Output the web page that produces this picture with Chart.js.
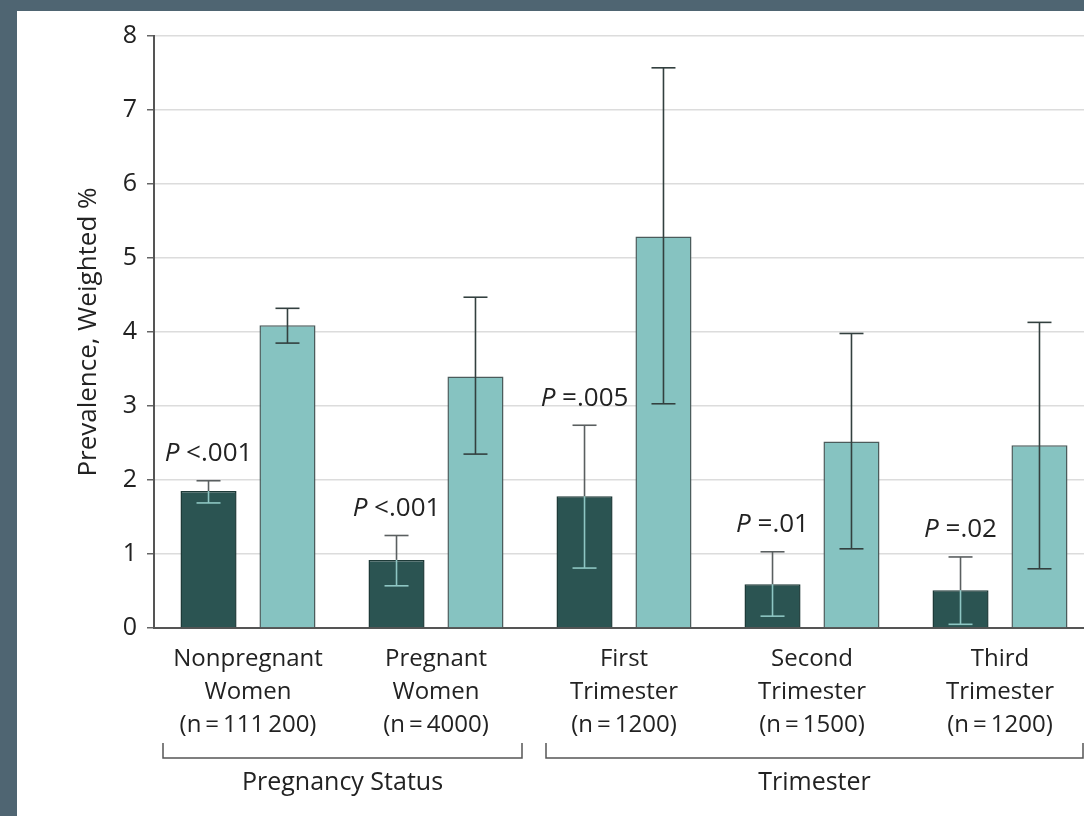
<!DOCTYPE html>
<html>
<head>
<meta charset="utf-8">
<script src="https://cdn.jsdelivr.net/npm/chart.js@4"></script>
<style>
  html, body { margin: 0; padding: 0; }
  body { background: #4f6572; width: 1084px; height: 816px; overflow: hidden; position: relative; }
  #panel { position: absolute; left: 17px; top: 11px; width: 1077px; height: 805px; background: #fff; }
  canvas { display: block; }
</style>
</head>
<body>
<div id="panel"><canvas id="chart" width="1077" height="805"></canvas></div>
<script>
// Chart data
const categories = [
    ['Nonpregnant', 'Women', '(n\u2009=\u2009111\u2009200)'],
    ['Pregnant', 'Women', '(n\u2009=\u20094000)'],
    ['First', 'Trimester', '(n\u2009=\u20091200)'],
    ['Second', 'Trimester', '(n\u2009=\u20091500)'],
    ['Third', 'Trimester', '(n\u2009=\u20091200)']
];
const darkValues = [1.85, 0.92, 1.78, 0.59, 0.51];
const darkLow = [1.69, 0.57, 0.81, 0.16, 0.05];
const darkHigh = [1.99, 1.25, 2.74, 1.03, 0.96];
const lightValues = [4.09, 3.40, 5.29, 2.52, 2.47];
const lightLow = [3.85, 2.35, 3.03, 1.07, 0.80];
const lightHigh = [4.32, 4.47, 7.57, 3.98, 4.13];
const pValues = ['<.001', '<.001', '=.005', '=.01', '=.02'];
const groupNames = ['Pregnancy Status', 'Trimester'];
const groupSpans = [[0, 1], [2, 4]];
const yTicks = [0, 1, 2, 3, 4, 5, 6, 7, 8];

const FONT = "'Open Sans', 'DejaVu Sans', sans-serif";
const DARK = '#2b5452';
const LIGHT = '#86c3c1';

// Error bars: dark bars get a light line inside the bar and gray above it
const errorBars = {
    id: 'errorBars',
    afterDatasetsDraw(chart) {
        const ctx = chart.ctx;
        const y = chart.scales.y;
        const sets = [[darkLow, darkHigh, true], [lightLow, lightHigh, false]];
        ctx.save();
        ctx.lineWidth = 1.6;
        sets.forEach(([lows, highs, inside], i) => {
            chart.getDatasetMeta(i).data.forEach((bar, j) => {
                const x = bar.x;
                const top = bar.y;
                const yLo = y.getPixelForValue(lows[j]);
                const yHi = y.getPixelForValue(highs[j]);
                const seg = (a, b, color) => {
                    ctx.strokeStyle = color;
                    ctx.beginPath(); ctx.moveTo(x, a); ctx.lineTo(x, b); ctx.stroke();
                };
                const cap = (yy, color) => {
                    ctx.strokeStyle = color;
                    ctx.beginPath(); ctx.moveTo(x - 12, yy); ctx.lineTo(x + 12, yy); ctx.stroke();
                };
                if (inside) {
                    const outer = '#5a5f60';
                    const inner = '#8ec6c3';
                    if (yHi < top) seg(yHi, top, outer);
                    seg(Math.max(top, yHi), yLo, inner);
                    cap(yHi, yHi < top ? outer : inner);
                    cap(yLo, yLo < top ? outer : inner);
                } else {
                    seg(yHi, yLo, '#33403f');
                    cap(yHi, '#33403f');
                    cap(yLo, '#33403f');
                }
            });
        });
        ctx.restore();
    }
};

// P value labels above the dark bars
const pLabels = {
    id: 'pLabels',
    afterDatasetsDraw(chart) {
        const ctx = chart.ctx;
        const y = chart.scales.y;
        ctx.save();
        ctx.fillStyle = '#222';
        ctx.textBaseline = 'middle';
        ctx.textAlign = 'left';
        chart.getDatasetMeta(0).data.forEach((bar, j) => {
            const yy = y.getPixelForValue(darkHigh[j]) - 27;
            ctx.font = 'italic 26px ' + FONT;
            const wp = ctx.measureText('P ').width;
            ctx.font = '26px ' + FONT;
            const wr = ctx.measureText(pValues[j]).width;
            const x0 = bar.x - (wp + wr) / 2;
            ctx.font = 'italic 26px ' + FONT;
            ctx.fillText('P', x0, yy);
            ctx.font = '26px ' + FONT;
            ctx.fillText(pValues[j], x0 + wp, yy);
        });
        ctx.restore();
    }
};

// Brackets and group names under the category labels
const groupBrackets = {
    id: 'groupBrackets',
    afterDraw(chart) {
        const ctx = chart.ctx;
        const x = chart.scales.x;
        const insets = [[85, 86], [78, 83]];
        const top = 732, bottom = 747;
        ctx.save();
        ctx.strokeStyle = '#555';
        ctx.lineWidth = 1.5;
        ctx.fillStyle = '#222';
        ctx.font = '25px ' + FONT;
        ctx.textAlign = 'center';
        ctx.textBaseline = 'middle';
        groupSpans.forEach(([a, b], i) => {
            const x1 = x.getPixelForValue(a) - insets[i][0];
            const x2 = x.getPixelForValue(b) + insets[i][1];
            ctx.beginPath();
            ctx.moveTo(x1, top); ctx.lineTo(x1, bottom); ctx.lineTo(x2, bottom); ctx.lineTo(x2, top);
            ctx.stroke();
            ctx.fillText(groupNames[i], (x1 + x2) / 2, 772);
        });
        ctx.restore();
    }
};

const ctx = document.getElementById('chart');
new Chart(ctx, {
    type: 'bar',
    data: {
        labels: categories,
        datasets: [{
            label: 'Dark',
            data: darkValues,
            backgroundColor: DARK,
            borderColor: '#1e3a38',
            borderWidth: 1.5,
            categoryPercentage: 0.84,
            barPercentage: 0.71
        }, {
            label: 'Light',
            data: lightValues,
            backgroundColor: LIGHT,
            borderColor: '#4b5b5b',
            borderWidth: 1.5,
            categoryPercentage: 0.84,
            barPercentage: 0.71
        }]
    },
    options: {
        responsive: false,
        animation: false,
        events: [],
        layout: { padding: { top: 24, left: 0, right: 0, bottom: 0 } },
        plugins: { legend: { display: false }, tooltip: { enabled: false } },
        scales: {
            x: {
                grid: { display: false, drawTicks: false },
                border: { color: '#555', width: 2 },
                ticks: {
                    padding: 15,
                    color: '#222',
                    font: { family: FONT, size: 24, lineHeight: 1.375 },
                    maxRotation: 0
                },
                afterFit(scale) { scale.height = 188; }
            },
            y: {
                min: 0,
                max: 8,
                afterBuildTicks(scale) { scale.ticks = yTicks.map(v => ({ value: v })); },
                grid: { color: '#dcdcdc', lineWidth: 1.5, tickLength: 7, tickColor: '#666' },
                border: { color: '#555', width: 2 },
                ticks: {
                    padding: 10,
                    color: '#222',
                    font: { family: FONT, size: 25 }
                },
                title: {
                    display: true,
                    text: 'Prevalence, Weighted %',
                    color: '#222',
                    font: { family: FONT, size: 26 },
                    padding: { top: 56, bottom: 0 }
                },
                afterFit(scale) { scale.width = 137; }
            }
        }
    },
    plugins: [errorBars, pLabels, groupBrackets]
});
</script>
</body>
</html>
